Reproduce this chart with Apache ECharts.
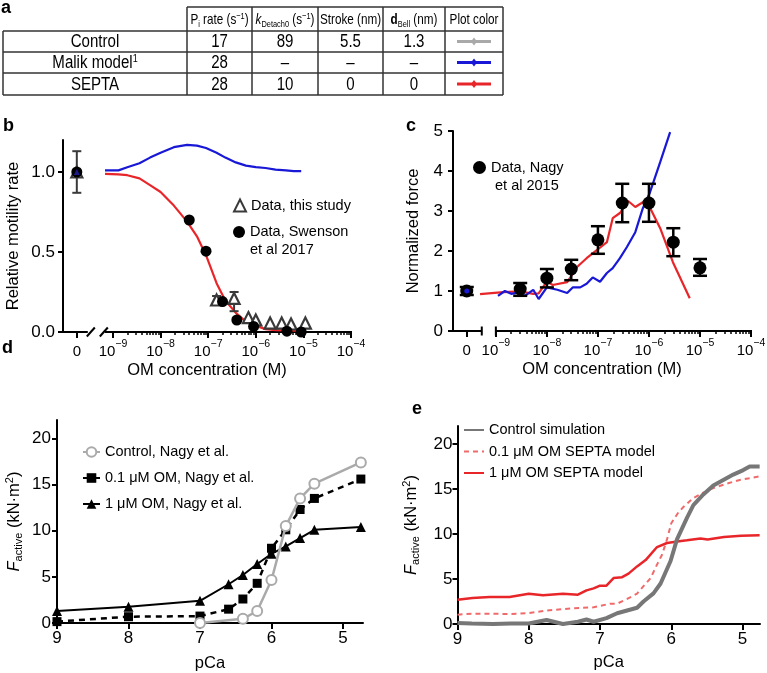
<!DOCTYPE html>
<html><head><meta charset="utf-8">
<script src="https://cdn.jsdelivr.net/npm/echarts@6/dist/echarts.min.js"></script>
<style>html,body{margin:0;padding:0;background:#fff}#c{width:767px;height:673px}</style>
</head><body><div id="c"></div>
<script>
// ================= DATA =================
// Panel a (table)
const tableHeaders = ['{t|P}{sub|i}{t| rate (s}{sup|−1}{t|)}', '{it|k}{sub|Detach0}{t| (s}{sup|−1}{t|)}', '{t|Stroke (nm)}', '{bd|d}{sub|Bell}{t| (nm)}', '{t|Plot color}'];
const tableRowLabels = ['{r|Control}', '{r|Malik model}{rs|1}', '{r|SEPTA}'];
const piRate = ['17', '28', '28'];
const kDetach0 = ['89', '–', '10'];
const strokeNm = ['5.5', '–', '0'];
const dBellNm = ['1.3', '–', '0'];
const plotColors = ['#a9a9a9', '#1818d6', '#e8262a'];

// Panel b (relative motility rate vs OM concentration, M)
const bModelConc = [6.8e-10, 1.3e-9, 2e-9, 3.6e-9, 6e-9, 1e-8, 1.9e-8, 3.6e-8, 5.8e-8, 9e-8, 1.5e-7, 2.3e-7, 3.8e-7, 6.2e-7, 1e-6, 1.6e-6, 2.6e-6, 4.3e-6, 6.3e-6, 9e-6];
const bMalik = [1.01, 1.01, 1.03, 1.055, 1.09, 1.12, 1.155, 1.17, 1.165, 1.15, 1.12, 1.09, 1.06, 1.04, 1.03, 1.025, 1.015, 1.01, 1.005, 1.005];
const bSepta = [0.988, 0.985, 0.98, 0.96, 0.918, 0.875, 0.79, 0.69, 0.598, 0.48, 0.305, 0.196, 0.12, 0.065, 0.04, 0.018, 0.012, 0.01, 0.008, 0.008];
const bSwensonConc = [0, 4e-8, 9e-8, 2e-7, 4e-7, 9e-7, 4.5e-6, 9e-6];
const bSwenson = [1.0, 0.70, 0.505, 0.19, 0.075, 0.035, 0.005, 0.0];
const bStudyConc = [0, 1.5e-7, 3.5e-7, 7e-7, 1e-6, 2e-6, 3.5e-6, 5.5e-6, 1.1e-5];
const bStudy = [1.0, 0.2, 0.21, 0.09, 0.075, 0.056, 0.056, 0.05, 0.056];
const bStudyErrConc = [0, 1.5e-7, 3.5e-7];
const bStudyErrLow = [0.87, 0.175, 0.13];
const bStudyErrHigh = [1.13, 0.225, 0.25];
const bMalikZero = [1.0];

// Panel c (normalized force vs OM concentration, M)
const cMalikConc = [1.1e-9, 1.5e-9, 2.0e-9, 2.7e-9, 3.7e-9, 5.4e-9, 6.9e-9, 1.0e-8, 1.6e-8, 2.5e-8, 3.2e-8, 4.5e-8, 6.0e-8, 7.9e-8, 1.1e-7, 1.5e-7, 1.95e-7, 2.7e-7, 3.7e-7, 5.4e-7, 7.6e-7, 1.05e-6, 1.66e-6, 2.6e-6];
const cMalik = [0.88, 1.0, 0.93, 0.96, 0.88, 1.03, 0.8, 1.09, 1.03, 0.95, 1.09, 1.09, 1.18, 1.34, 1.23, 1.45, 1.57, 1.82, 2.1, 2.47, 3.07, 3.47, 4.22, 4.97];
const cSeptaConc = [4.9e-10, 1.4e-9, 3.0e-9, 5.4e-9, 6.9e-9, 1.0e-8, 1.3e-8, 2.5e-8, 3.9e-8, 6.0e-8, 9.5e-8, 1.5e-7, 1.95e-7, 2.7e-7, 3.9e-7, 5.4e-7, 7.6e-7, 1.05e-6, 1.66e-6, 2.95e-6, 6.3e-6];
const cSepta = [0.92, 0.97, 0.99, 0.93, 0.94, 1.24, 1.15, 1.22, 1.6, 1.82, 2.02, 2.22, 2.82, 2.95, 3.25, 3.1, 3.22, 3.08, 2.57, 1.72, 0.82];
const cNagyConc = [0, 3e-9, 1e-8, 3e-8, 1e-7, 3e-7, 1e-6, 3e-6, 1e-5];
const cNagy = [1.0, 1.05, 1.32, 1.55, 2.28, 3.2, 3.2, 2.22, 1.58];
const cNagyLow = [0.9, 0.88, 1.09, 1.27, 1.93, 2.72, 2.73, 1.87, 1.38];
const cNagyHigh = [1.1, 1.2, 1.55, 1.78, 2.62, 3.68, 3.68, 2.57, 1.8];
const cMalikZero = [1.0];

// Panel d (F_active vs pCa, Nagy et al.)
const dPCa = [9, 8, 7, 6.6, 6.4, 6.2, 6.0, 5.8, 5.6, 5.4, 4.75];
const dOM01 = [0.15, 0.68, 0.75, 1.5, 2.6, 4.3, 8.1, 10.1, 12.3, 13.5, 15.6];
const dOM1 = [1.3, 1.76, 2.4, 4.2, 5.2, 6.4, 7.5, 8.3, 9.2, 10.1, 10.4];
const dControlPCa = [7, 6.4, 6.2, 6.0, 5.8, 5.6, 5.4, 4.75];
const dControl = [0.0, 0.45, 1.3, 4.65, 10.5, 13.5, 15.1, 17.4];

// Panel e (simulations)
const eCtrlPCa = [9, 8.8, 8.5, 8.25, 8.0, 7.75, 7.52, 7.31, 7.19, 7.09, 6.91, 6.76, 6.62, 6.48, 6.39, 6.25, 6.15, 6.01, 5.92, 5.85, 5.78, 5.69, 5.55, 5.41, 5.27, 5.13, 4.99, 4.9, 4.76];
const eCtrl = [0.1, 0.05, 0.0, 0.05, 0.05, 0.45, 0.0, 0.25, 0.5, 0.25, 0.65, 1.2, 1.5, 1.8, 2.5, 3.4, 4.5, 7.0, 9.4, 10.6, 11.8, 13.2, 14.4, 15.4, 16.0, 16.6, 17.1, 17.5, 17.5];
const eOM01PCa = [9, 8.79, 8.48, 8.27, 8.0, 7.75, 7.38, 7.09, 6.86, 6.76, 6.62, 6.48, 6.39, 6.29, 6.2, 6.13, 6.06, 6.0, 5.9, 5.83, 5.69, 5.55, 5.41, 5.22, 5.04, 4.76];
const eOM01 = [1.04, 1.15, 1.15, 1.1, 1.2, 1.5, 1.74, 1.85, 2.26, 2.26, 2.78, 3.37, 4.2, 5.1, 6.6, 7.7, 9.4, 11.2, 12.4, 13.0, 14.0, 14.6, 15.1, 15.6, 16.0, 16.4];
const eOM1PCa = [9, 8.79, 8.55, 8.27, 8.0, 7.8, 7.52, 7.31, 7.19, 7.09, 7.0, 6.91, 6.81, 6.69, 6.6, 6.48, 6.36, 6.2, 6.06, 5.89, 5.78, 5.59, 5.49, 5.26, 5.02, 4.76];
const eOM1 = [2.7, 2.9, 3.0, 3.0, 3.37, 3.2, 3.37, 3.26, 3.74, 3.96, 4.26, 4.26, 5.1, 5.2, 5.6, 6.4, 7.1, 8.55, 9.0, 9.2, 9.3, 9.5, 9.4, 9.67, 9.8, 9.85];

// Axis ticks
const logDecades = [-9, -8, -7, -6, -5, -4];
const pcaTicks = [9, 8, 7, 6, 5];
const forceTicks = [0, 5, 10, 15, 20];
const bYTicks = [0, 0.5, 1.0];
const cYTicks = [0, 1, 2, 3, 4, 5];

// ================= HELPERS =================
const FONT = '"Liberation Sans", Arial, sans-serif';
const B_ZERO = -9.76, C_ZERO = -9.57;   // where the "0" concentration sits on the broken axis
const bx = c => c === 0 ? B_ZERO : Math.log10(c);
const cx = c => c === 0 ? C_ZERO : Math.log10(c);
const zip = (xs, ys, f) => xs.map((x, i) => [f ? f(x) : x, ys[i]]);
const minorTicks = [];
for (let n = -9; n < -4; n++) for (let k = 2; k <= 9; k++) minorTicks.push(n + Math.log10(k));

const supRich = {
  n: {fontSize: 15, lineHeight: 20, fontFamily: FONT, color: '#000', verticalAlign: 'bottom'},
  b: {fontSize: 15, lineHeight: 20, fontFamily: FONT, color: '#000', verticalAlign: 'bottom'},
  s: {fontSize: 10.5, lineHeight: 9, fontFamily: FONT, color: '#000', verticalAlign: 'top'}
};
const logLabel = v => (v < -9.3 ? '{n|0}' : '{b|10}{s|−' + Math.round(-v) + '}');
const fRich = {
  i: {fontSize: 16.5, lineHeight: 20, fontFamily: FONT, fontStyle: 'italic', color: '#000'},
  t: {fontSize: 16.5, lineHeight: 20, fontFamily: FONT, color: '#000'},
  sub: {fontSize: 11, lineHeight: 11, fontFamily: FONT, color: '#000', verticalAlign: 'bottom'},
  sup: {fontSize: 11, lineHeight: 11, fontFamily: FONT, color: '#000', verticalAlign: 'top'}
};
const F_NAME = '{i|F}{sub|active}{t| (kN·m}{sup|2}{t|)}';

function yAxisCommon(grid, min, max, ticks, fmt, margin, name, nameGap, rich) {
  return {
    gridIndex: grid, type: 'value', min, max,
    axisLine: {show: true, lineStyle: {color: '#000', width: 2}},
    axisTick: {show: true, customValues: ticks, length: 5, lineStyle: {color: '#000', width: 2}},
    axisLabel: {customValues: ticks, formatter: fmt, margin, color: '#000', fontSize: 17, fontFamily: FONT},
    splitLine: {show: false},
    name, nameLocation: 'middle', nameGap, nameRotate: 90,
    nameTextStyle: {color: '#000', fontSize: 16.5, fontFamily: FONT, rich: rich}
  };
}
function logXAxis(grid, min, zero, name, nameGap) {
  return {
    gridIndex: grid, type: 'value', min, max: -4, position: 'bottom',
    axisLine: {show: false, onZero: false},
    axisTick: {show: true, customValues: [zero].concat(logDecades), length: 6, lineStyle: {color: '#000', width: 2}},
    axisLabel: {customValues: [zero].concat(logDecades), formatter: logLabel, margin: 7, rich: supRich},
    splitLine: {show: false},
    name, nameLocation: 'middle', nameGap,
    nameTextStyle: {color: '#000', fontSize: 16.5, fontFamily: FONT}
  };
}
function minorXAxis(grid, min) {
  return {
    gridIndex: grid, type: 'value', min, max: -4, position: 'bottom',
    axisLine: {show: false, onZero: false},
    axisTick: {show: true, customValues: minorTicks, length: 3, lineStyle: {color: '#000', width: 1.5}},
    axisLabel: {show: false}, splitLine: {show: false}
  };
}
function pcaXAxis(grid, min, nameGap) {
  return {
    gridIndex: grid, type: 'value', min, max: 9, inverse: true,
    axisLine: {show: true, onZero: false, lineStyle: {color: '#000', width: 2}},
    axisTick: {show: true, customValues: pcaTicks, length: 6, lineStyle: {color: '#000', width: 2}},
    axisLabel: {customValues: pcaTicks, margin: 7, color: '#000', fontSize: 17, fontFamily: FONT},
    splitLine: {show: false},
    name: 'pCa', nameLocation: 'middle', nameGap,
    nameTextStyle: {color: '#000', fontSize: 16.5, fontFamily: FONT}
  };
}
function errBars(capW, lw, color) {
  return function (params, api) {
    const x = api.value(0), lo = api.value(1), hi = api.value(2);
    const pLo = api.coord([x, lo]), pHi = api.coord([x, hi]);
    const h = capW / 2, style = {stroke: color, lineWidth: lw};
    return {type: 'group', children: [
      {type: 'line', shape: {x1: pLo[0], y1: pLo[1], x2: pHi[0], y2: pHi[1]}, style},
      {type: 'line', shape: {x1: pHi[0] - h, y1: pHi[1], x2: pHi[0] + h, y2: pHi[1]}, style},
      {type: 'line', shape: {x1: pLo[0] - h, y1: pLo[1], x2: pLo[0] + h, y2: pLo[1]}, style}
    ]};
  };
}

const RED = '#e8262a', BLUE = '#1818d6';
const legText = {color: '#000', fontSize: 14.5, fontFamily: FONT, lineHeight: 16};
const legText3 = {color: '#000', fontSize: 14.5, fontFamily: FONT, lineHeight: 18};

// ================= CHART =================
const chart = echarts.init(document.getElementById('c'), null, {renderer: 'canvas'});
const option = {
  animation: false,
  backgroundColor: '#fff',
  grid: [
    {left: 63, top: 140, width: 288, height: 192, outerBoundsMode: 'none', containLabel: false},
    {left: 453, top: 131, width: 298, height: 200, outerBoundsMode: 'none', containLabel: false},
    {left: 57, top: 420, width: 306, height: 203, outerBoundsMode: 'none', containLabel: false},
    {left: 457.5, top: 426, width: 302.5, height: 198, outerBoundsMode: 'none', containLabel: false}
  ],
  xAxis: [
    logXAxis(0, -10.05, B_ZERO, 'OM concentration (M)', 30),
    minorXAxis(0, -10.05),
    logXAxis(1, -9.84, C_ZERO, 'OM concentration (M)', 30),
    minorXAxis(1, -9.84),
    pcaXAxis(2, 4.72, 32),
    pcaXAxis(3, 4.755, 30)
  ],
  yAxis: [
    yAxisCommon(0, 0, 1.2, bYTicks, v => v.toFixed(1), 8, 'Relative motility rate', 41),
    yAxisCommon(1, 0, 5, cYTicks, v => String(v), 10, 'Normalized force', 31),
    yAxisCommon(2, 0, 22, forceTicks, v => String(v), 6, F_NAME, 33, fRich),
    yAxisCommon(3, 0, 22, forceTicks, v => String(v), 5, F_NAME, 36, fRich)
  ],
  legend: [
    {left: 233, top: 197.5, padding: 0, orient: 'vertical', itemWidth: 12, itemHeight: 12,
     data: ['Data, this study'], textStyle: legText},
    {left: 233, top: 205, padding: 0, orient: 'vertical', itemWidth: 12, itemHeight: 12,
     data: ['Data, Swenson et al 2017'], formatter: n => ' \n' + n.replace(' et al', '\net al'), textStyle: legText3},
    {left: 473, top: 140.5, padding: 0, orient: 'vertical', itemWidth: 13, itemHeight: 13,
     data: ['Data, Nagy et al 2015'], formatter: n => ' \n' + n.replace(' et al', '\n et al'), textStyle: legText3},
    {left: 82, top: 444, padding: 0, orient: 'vertical', itemWidth: 17, itemHeight: 12, itemGap: 10,
     data: ['Control, Nagy et al.', '0.1 μM OM, Nagy et al.', '1 μM OM, Nagy et al.'], textStyle: legText},
    {left: 463, top: 422, padding: 0, orient: 'vertical', itemWidth: 20, itemHeight: 12, itemGap: 5.5,
     itemStyle: {opacity: 0},
     data: ['Control simulation', '0.1 μM OM SEPTA model', '1 μM OM SEPTA model'], textStyle: legText}
  ],
  series: [
    // ---- b ----
    {name: 'SEPTA b', type: 'line', xAxisIndex: 0, yAxisIndex: 0, data: zip(bModelConc, bSepta, bx),
     showSymbol: false, symbol: 'none', lineStyle: {color: RED, width: 2.2}, itemStyle: {color: RED}, z: 2},
    {name: 'Malik b', type: 'line', xAxisIndex: 0, yAxisIndex: 0, data: zip(bModelConc, bMalik, bx),
     showSymbol: false, symbol: 'none', lineStyle: {color: BLUE, width: 2.2}, itemStyle: {color: BLUE}, z: 2},
    {name: 'err b', type: 'custom', xAxisIndex: 0, yAxisIndex: 0, renderItem: errBars(9, 2, '#3a3a3a'),
     data: bStudyErrConc.map((c, i) => [bx(c), bStudyErrLow[i], bStudyErrHigh[i]]), encode: {x: 0, y: [1, 2]}, z: 3},
    {name: 'Data, this study', type: 'scatter', xAxisIndex: 0, yAxisIndex: 0, data: zip(bStudyConc, bStudy, bx),
     symbol: 'triangle', symbolSize: 11, itemStyle: {color: '#fff', borderColor: '#3a3a3a', borderWidth: 2.2, opacity: 1}, z: 4},
    {name: 'Data, Swenson et al 2017', type: 'scatter', xAxisIndex: 0, yAxisIndex: 0, data: zip(bSwensonConc, bSwenson, bx),
     symbol: 'circle', symbolSize: 11, itemStyle: {color: '#000', opacity: 1}, z: 5},
    {name: 'Malik b zero', type: 'scatter', xAxisIndex: 0, yAxisIndex: 0, data: [[bx(0), bMalikZero[0]]],
     symbol: 'triangle', symbolSize: 6, itemStyle: {color: '#1a1a8a', opacity: 1}, z: 6},
    // ---- c ----
    {name: 'SEPTA c', type: 'line', xAxisIndex: 2, yAxisIndex: 1, data: zip(cSeptaConc, cSepta, cx),
     showSymbol: false, symbol: 'none', lineStyle: {color: RED, width: 2.2}, z: 2},
    {name: 'Malik c', type: 'line', xAxisIndex: 2, yAxisIndex: 1, data: zip(cMalikConc, cMalik, cx),
     showSymbol: false, symbol: 'none', lineStyle: {color: BLUE, width: 2.2}, z: 2},
    {name: 'err c', type: 'custom', xAxisIndex: 2, yAxisIndex: 1, renderItem: errBars(14, 2.5, '#000'),
     data: cNagyConc.map((c, i) => [cx(c), cNagyLow[i], cNagyHigh[i]]), encode: {x: 0, y: [1, 2]}, z: 3},
    {name: 'Data, Nagy et al 2015', type: 'scatter', xAxisIndex: 2, yAxisIndex: 1, data: zip(cNagyConc, cNagy, cx),
     symbol: 'circle', symbolSize: 13, itemStyle: {color: '#000', opacity: 1}, z: 4},
    {name: 'Malik c zero', type: 'scatter', xAxisIndex: 2, yAxisIndex: 1, data: [[cx(0), cMalikZero[0]]],
     symbol: 'circle', symbolSize: 5, itemStyle: {color: BLUE, opacity: 1}, z: 5},
    // ---- d ----
    {name: '1 μM OM, Nagy et al.', type: 'line', xAxisIndex: 4, yAxisIndex: 2, data: zip(dPCa, dOM1),
     symbol: 'triangle', symbolSize: 10, lineStyle: {color: '#000', width: 2}, itemStyle: {color: '#000'}, z: 2},
    {name: '0.1 μM OM, Nagy et al.', type: 'line', xAxisIndex: 4, yAxisIndex: 2, data: zip(dPCa, dOM01),
     symbol: 'rect', symbolSize: 9, lineStyle: {color: '#000', width: 2.5, type: [6, 5]}, itemStyle: {color: '#000'}, z: 3},
    {name: 'Control, Nagy et al.', type: 'line', xAxisIndex: 4, yAxisIndex: 2, data: zip(dControlPCa, dControl),
     symbol: 'emptyCircle', symbolSize: 10, lineStyle: {color: '#aaaaaa', width: 2.5},
     itemStyle: {color: '#aaaaaa', borderColor: '#aaaaaa', borderWidth: 2}, z: 4},
    // ---- e ----
    {name: '1 μM OM SEPTA model', type: 'line', xAxisIndex: 5, yAxisIndex: 3, data: zip(eOM1PCa, eOM1),
     showSymbol: false, symbol: 'none', lineStyle: {color: RED, width: 2.5}, itemStyle: {color: RED}, z: 2},
    {name: '0.1 μM OM SEPTA model', type: 'line', xAxisIndex: 5, yAxisIndex: 3, data: zip(eOM01PCa, eOM01),
     showSymbol: false, symbol: 'none', lineStyle: {color: '#ef6b6b', width: 2, type: [5, 4]}, itemStyle: {color: '#ef6b6b'}, z: 3},
    {name: 'Control simulation', type: 'line', xAxisIndex: 5, yAxisIndex: 3, data: zip(eCtrlPCa, eCtrl),
     showSymbol: false, symbol: 'none', lineStyle: {color: '#777777', width: 4}, itemStyle: {color: '#777777'}, z: 4}
  ]
};
chart.setOption(option);

// ================= DECORATIONS (table, panel letters, axis breaks) =================
const els = [];
const LINE = {stroke: '#333', lineWidth: 1.5};
const colX = [3, 187, 252, 318, 383, 445, 503];
const rowY = [7, 31, 52, 73, 95];
els.push({type: 'line', shape: {x1: colX[1], y1: rowY[0], x2: colX[6], y2: rowY[0]}, style: LINE});
for (let r = 1; r < rowY.length; r++)
  els.push({type: 'line', shape: {x1: colX[0], y1: rowY[r], x2: colX[6], y2: rowY[r]}, style: LINE});
els.push({type: 'line', shape: {x1: colX[0], y1: rowY[1], x2: colX[0], y2: rowY[4]}, style: LINE});
for (let c = 1; c < colX.length; c++)
  els.push({type: 'line', shape: {x1: colX[c], y1: rowY[0], x2: colX[c], y2: rowY[4]}, style: LINE});
const tRich = {
  t: {fontSize: 15, fontFamily: FONT, fill: '#000', lineHeight: 18},
  it: {fontSize: 15, fontFamily: FONT, fontStyle: 'italic', fill: '#000', lineHeight: 18},
  bd: {fontSize: 15, fontFamily: FONT, fontWeight: 'bold', fill: '#000', lineHeight: 18},
  sub: {fontSize: 9.5, fontFamily: FONT, fill: '#000', lineHeight: 9, verticalAlign: 'bottom'},
  sup: {fontSize: 9.5, fontFamily: FONT, fill: '#000', lineHeight: 9, verticalAlign: 'top'},
  r: {fontSize: 17.5, fontFamily: FONT, fill: '#000', lineHeight: 20},
  rs: {fontSize: 10.5, fontFamily: FONT, fill: '#000', lineHeight: 10, verticalAlign: 'top'}
};
const ctr = (a, b) => (a + b) / 2;
function cellText(text, x, y, sx) {
  return {type: 'text', x, y, scaleX: sx, style: {text, rich: tRich, x: 0, y: 0, align: 'center', verticalAlign: 'middle'}};
}
tableHeaders.forEach((h, i) => {
  els.push(cellText(h, ctr(colX[i + 1], colX[i + 2]), ctr(rowY[0], rowY[1]) + 1, 0.78));
});
const rowCols = [piRate, kDetach0, strokeNm, dBellNm];
tableRowLabels.forEach((lab, r) => {
  const yc = ctr(rowY[r + 1], rowY[r + 2]) + 1;
  els.push(cellText(lab, ctr(colX[0], colX[1]), yc, 0.86));
  rowCols.forEach((col, j) => {
    els.push(cellText('{r|' + col[r] + '}', ctr(colX[j + 1], colX[j + 2]), yc, 0.86));
  });
  const xc = ctr(colX[5], colX[6]);
  els.push({type: 'line', shape: {x1: xc - 17, y1: yc - 1, x2: xc + 17, y2: yc - 1}, style: {stroke: plotColors[r], lineWidth: 3}});
  els.push({type: 'polygon', shape: {points: [[xc, yc - 5], [xc + 3, yc - 1], [xc, yc + 3], [xc - 3, yc - 1]]}, style: {fill: plotColors[r]}});
});
// panel letters
[['a', 1, -1], ['b', 3, 117], ['c', 406, 117], ['d', 2, 339], ['e', 412, 400]].forEach(p => {
  els.push({type: 'text', style: {text: p[0], x: p[1], y: p[2], font: 'bold 18px ' + FONT, fill: '#000', verticalAlign: 'top'}});
});
// broken x axes for b and c
const AX = {stroke: '#000', lineWidth: 2};
(function () {
  const y = chart.convertToPixel({yAxisIndex: 0}, 0);
  const z = chart.convertToPixel({xAxisIndex: 0}, B_ZERO);
  const x0 = chart.convertToPixel({xAxisIndex: 0}, -10.05);
  const x1 = chart.convertToPixel({xAxisIndex: 0}, -4);
  els.push({type: 'line', shape: {x1: x0 - 5, y1: y, x2: z + 11, y2: y}, style: AX});
  els.push({type: 'line', shape: {x1: z + 10, y1: y + 4.5, x2: z + 18, y2: y - 4.5}, style: AX});
  els.push({type: 'line', shape: {x1: z + 23, y1: y + 4.5, x2: z + 31, y2: y - 4.5}, style: AX});
  els.push({type: 'line', shape: {x1: z + 28, y1: y, x2: x1 + 1, y2: y}, style: AX});
})();
(function () {
  const y = chart.convertToPixel({yAxisIndex: 1}, 0);
  const z = chart.convertToPixel({xAxisIndex: 2}, C_ZERO);
  const x0 = chart.convertToPixel({xAxisIndex: 2}, -9.84);
  const x1 = chart.convertToPixel({xAxisIndex: 2}, -4);
  const d9 = chart.convertToPixel({xAxisIndex: 2}, -9);
  els.push({type: 'line', shape: {x1: x0 - 5, y1: y, x2: z + 15, y2: y}, style: AX});
  els.push({type: 'line', shape: {x1: z + 15, y1: y - 4.5, x2: z + 15, y2: y + 4.5}, style: AX});
  els.push({type: 'line', shape: {x1: d9, y1: y - 4.5, x2: d9, y2: y + 4.5}, style: AX});
  els.push({type: 'line', shape: {x1: d9, y1: y, x2: x1 + 1, y2: y}, style: AX});
})();
chart.setOption({graphic: {elements: els}});
</script></body></html>
